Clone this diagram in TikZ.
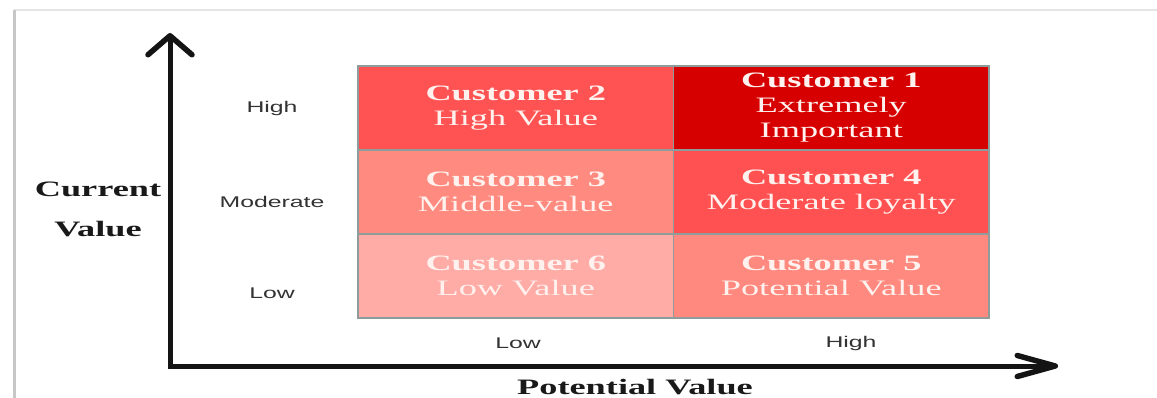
\documentclass[tikz,border=0pt]{standalone}
\usepackage{fontspec}
\usetikzlibrary{arrows.meta}
\newfontfamily\cellserif[FakeStretch=1.65]{Liberation Serif}
\newfontfamily\labelsans[FakeStretch=1.6]{Liberation Sans}

\definecolor{cOne}{HTML}{D70000}
\definecolor{cTwo}{HTML}{FF5353}
\definecolor{cFour}{HTML}{FF5151}
\definecolor{cThree}{HTML}{FF8B80}
\definecolor{cFive}{HTML}{FF897E}
\definecolor{cSix}{HTML}{FFABA6}
\definecolor{gridline}{HTML}{8E9C9C}
\definecolor{celltext}{HTML}{FFF1EE}
\definecolor{ticktext}{HTML}{333333}

\tikzset{
  cell/.style={draw=gridline, line width=1.4pt, minimum width=315.5pt,
    minimum height=84pt, inner sep=0pt, align=center, text=celltext,
    font=\cellserif\fontsize{22}{25}\selectfont},
  tick/.style={text=ticktext, inner sep=0pt, font=\labelsans\fontsize{15.5}{18}\selectfont},
  axistitle/.style={text=black!90, inner sep=0pt, font=\cellserif\bfseries\fontsize{22}{24}\selectfont},
  axis/.style={line width=5pt, black!92, line join=miter},
}

\begin{document}
\begin{tikzpicture}[x=1pt, y=-1pt]
  \useasboundingbox (0,0) rectangle (1157,398);
  \fill[white] (0,0) rectangle (1157,398);

  % page frame edges
  \draw[line width=1.6pt, black!10] (14,10) -- (1157,10);
  \draw[line width=3pt, black!22] (14,10) -- (14,398);

  % matrix cells
  \node[cell, fill=cTwo]   (c2) at (515.75,108) {\textbf{Customer 2}\\High Value};
  \node[cell, fill=cOne]   (c1) at (831.25,108) {\textbf{Customer 1}\\Extremely\\Important};
  \node[cell, fill=cThree] (c3) at (515.75,192) {\textbf{Customer 3}\\Middle-value};
  \node[cell, fill=cFour]  (c4) at (831.25,192) {\textbf{Customer 4}\\Moderate loyalty};
  \node[cell, fill=cSix]   (c6) at (515.75,276) {\textbf{Customer 6}\\Low Value};
  \node[cell, fill=cFive]  (c5) at (831.25,276) {\textbf{Customer 5}\\Potential Value};

  % tick labels
  \node[tick] (rh) at (272,108) {High};
  \node[tick] (rm) at (272,202) {Moderate};
  \node[tick] (rl) at (272,293) {Low};
  \node[tick] (cl) at (518,343) {Low};
  \node[tick] (ch) at (851,343) {High};

  % axis titles
  \node[axistitle] (yt1) at (98,189) {Current};
  \node[axistitle] (yt2) at (98,229) {Value};
  \node[axistitle, anchor=base] (xt) at (635,394) {Potential Value};

  % axes
  \coordinate (ytip) at (170,33);
  \coordinate (xtip) at (1058,366);
  \draw[axis,
    {Straight Barb[length=19pt, width=44pt, line width=5.5pt, round]}-{Straight Barb[length=38pt, width=21pt, line width=5.5pt, round]}]
    (ytip) |- (xtip);
\end{tikzpicture}
\end{document}
